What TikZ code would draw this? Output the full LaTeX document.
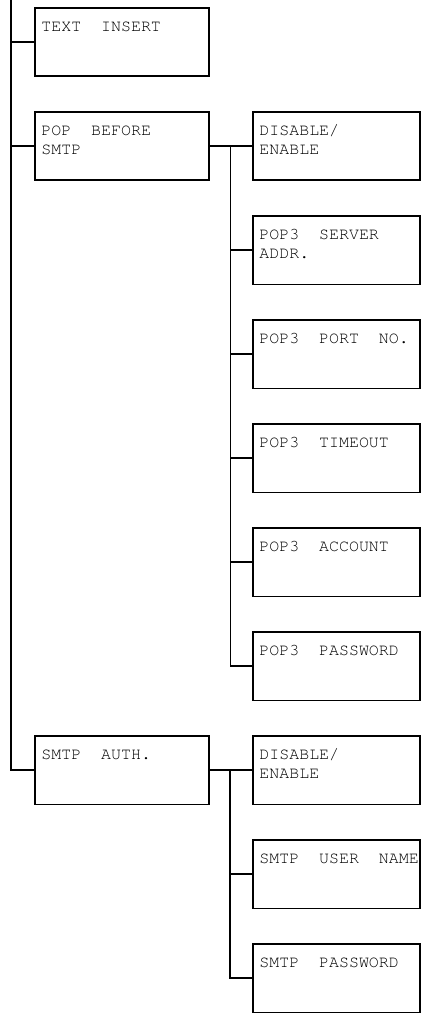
\documentclass[tikz,border=0pt]{standalone}
\usepackage[T1]{fontenc}
\newcommand{\boxtxt}[2]{\parbox[t][68.5pt][t]{#1pt}{\raggedright\leftskip=6.5pt\fontsize{16.6}{19}\fontfamily{pcr}\selectfont\spaceskip=2\fontdimen2\font\rule{0pt}{24pt}#2}}
\tikzset{
  box/.style={draw, line width=1.9pt, inner sep=0pt, anchor=north west},
  conn/.style={line width=1.9pt},
}
\begin{document}
\begin{tikzpicture}[x=1pt,y=-1pt]
\useasboundingbox (0,0) rectangle (426,1019);
% left column
\node[box] (ti) at (34,7) {\boxtxt{174}{TEXT INSERT}};
\node[box] (pop) at (34,111) {\boxtxt{174}{POP BEFORE\\SMTP}};
\node[box] (smtp) at (34,735) {\boxtxt{174}{SMTP AUTH.}};
% POP BEFORE SMTP children
\node[box] (d1) at (252,111) {\boxtxt{167}{DISABLE/\\ENABLE}};
\node[box] (d2) at (252,215) {\boxtxt{167}{POP3 SERVER\\ADDR.}};
\node[box] (d3) at (252,319) {\boxtxt{167}{POP3 PORT NO.}};
\node[box] (d4) at (252,423) {\boxtxt{167}{POP3 TIMEOUT}};
\node[box] (d5) at (252,527) {\boxtxt{167}{POP3 ACCOUNT}};
\node[box] (d6) at (252,631) {\boxtxt{167}{POP3 PASSWORD}};
% SMTP AUTH children
\node[box] (s1) at (252,735) {\boxtxt{167}{DISABLE/\\ENABLE}};
\node[box] (s2) at (252,839) {\boxtxt{167}{SMTP USER NAME}};
\node[box] (s3) at (252,943) {\boxtxt{167}{SMTP PASSWORD}};
% main trunk
\coordinate (top) at (11,0);
\draw[conn] (top) |- (smtp.west);
\draw[conn] (top |- ti.west) -- (ti.west);
\draw[conn] (top |- pop.west) -- (pop.west);
% POP branch
\coordinate (pb) at (230.5,0);
\draw[conn] (pop.east) -- (d1.west);
\draw[conn] (pb |- d1.west) |- (d6.west);
\draw[conn] (pb |- d2.west) -- (d2.west);
\draw[conn] (pb |- d3.west) -- (d3.west);
\draw[conn] (pb |- d4.west) -- (d4.west);
\draw[conn] (pb |- d5.west) -- (d5.west);
% SMTP branch
\coordinate (sb) at (230,0);
\draw[conn] (smtp.east) -- (s1.west);
\draw[conn] (sb |- s1.west) |- (s3.west);
\draw[conn] (sb |- s2.west) -- (s2.west);
\end{tikzpicture}
\end{document}
